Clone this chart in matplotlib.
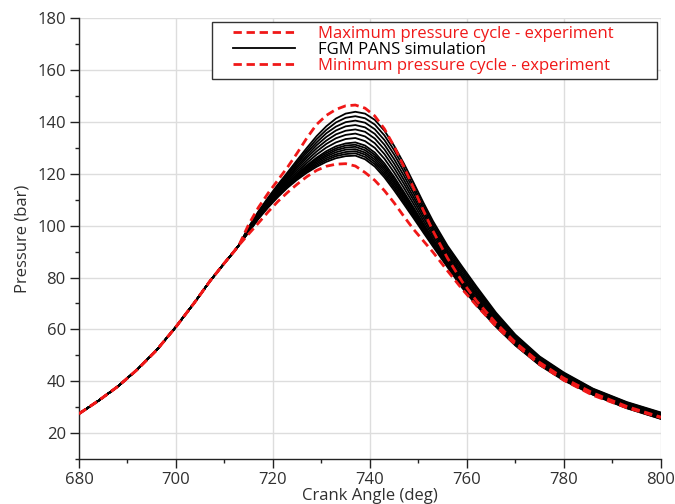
import numpy as np
import matplotlib
matplotlib.use("Agg")
import matplotlib.pyplot as plt
from matplotlib.patches import Rectangle
from matplotlib.lines import Line2D

plt.rcParams['font.family'] = ['Open Sans', 'DejaVu Sans']

# compression stroke, common to every cycle
ang_comp = [680, 684, 688, 692, 696, 700, 704, 707, 710, 712]
p_comp = [27.5, 32.5, 38.0, 44.5, 52.0, 61.0, 70.8, 78.6, 85.6, 90.1]

# combustion / expansion part, crank angle in deg
ang = [713, 715, 717, 719, 721, 723, 725, 727, 729, 731, 733, 735, 737, 739, 741,
       743, 745, 747, 749, 751, 753, 756, 759, 762, 766, 770, 775, 780, 786, 793, 800]

# experiment, max and min pressure cycles (bar)
p_max_exp = [92.5, 100.5, 107.0, 112.5, 117.5, 122.5, 128.0, 133.8, 139.0, 142.5, 144.8,
             146.2, 146.5, 145.3, 142.3, 137.3, 130.5, 122.8, 114.5, 106.0, 98.0, 87.5,
             78.5, 71.0, 62.5, 55.0, 47.3, 41.2, 35.5, 30.3, 26.2]
p_min_exp = [92.5, 96.8, 101.0, 105.3, 109.3, 112.8, 116.0, 118.9, 121.3, 122.9, 123.7,
             123.9, 123.0, 120.5, 117.5, 113.5, 108.8, 103.6, 98.6, 94.2, 89.8, 82.6,
             75.6, 69.2, 61.2, 54.2, 46.5, 40.4, 34.6, 29.8, 26.0]

# FGM PANS simulated cycles (bar)
p_sim = [
    [92.5, 99.5, 105.5, 110.8, 115.8, 120.5, 125.3, 130.0, 134.5, 138.3, 141.3, 143.2,
     143.9, 143.2, 140.8, 136.6, 130.8, 124.0, 116.6, 109.0, 101.8, 92.3, 84.3, 76.5,
     66.5, 58.0, 49.6, 43.4, 37.2, 32.0, 28.0],
    [92.5, 99.3, 105.2, 110.4, 115.3, 119.9, 124.5, 129.0, 133.3, 136.9, 139.8, 141.6,
     142.2, 141.4, 139.0, 134.8, 129.1, 122.4, 115.2, 107.8, 100.8, 91.5, 83.5, 75.8,
     66.0, 57.6, 49.3, 43.1, 37.0, 31.8, 27.8],
    [92.5, 99.1, 104.9, 110.0, 114.8, 119.3, 123.8, 128.1, 132.1, 135.6, 138.2, 139.9,
     140.5, 139.7, 137.2, 133.0, 127.4, 120.9, 113.9, 106.7, 99.8, 90.6, 82.7, 75.0,
     65.4, 57.2, 48.9, 42.8, 36.7, 31.5, 27.5],
    [92.5, 98.9, 104.6, 109.7, 114.4, 118.7, 123.0, 127.1, 131.0, 134.2, 136.7, 138.3,
     138.8, 137.9, 135.4, 131.2, 125.6, 119.3, 112.5, 105.5, 98.9, 89.8, 81.8, 74.3,
     64.9, 56.7, 48.6, 42.5, 36.5, 31.3, 27.3],
    [92.5, 98.7, 104.3, 109.3, 113.9, 118.1, 122.3, 126.2, 129.8, 132.8, 135.2, 136.6,
     137.1, 136.2, 133.6, 129.4, 123.9, 117.7, 111.1, 104.4, 97.9, 89.0, 81.0, 73.6,
     64.3, 56.3, 48.2, 42.2, 36.2, 31.0, 27.0],
    [92.5, 98.5, 104.1, 108.9, 113.4, 117.6, 121.5, 125.2, 128.6, 131.5, 133.7, 135.0,
     135.5, 134.4, 131.8, 127.6, 122.2, 116.2, 109.8, 103.2, 96.9, 88.2, 80.2, 72.9,
     63.8, 55.9, 47.9, 41.9, 36.0, 30.8, 26.8],
    [92.5, 98.3, 103.8, 108.5, 112.9, 117.0, 120.7, 124.2, 127.4, 130.1, 132.1, 133.4,
     133.8, 132.6, 130.0, 125.8, 120.5, 114.6, 108.4, 102.0, 95.9, 87.3, 79.4, 72.1,
     63.2, 55.5, 47.6, 41.5, 35.8, 30.6, 26.5],
    [92.5, 98.1, 103.5, 108.1, 112.4, 116.4, 120.0, 123.3, 126.2, 128.7, 130.6, 131.7,
     132.1, 130.9, 128.2, 124.0, 118.8, 113.0, 107.0, 100.9, 94.9, 86.5, 78.6, 71.4,
     62.7, 55.1, 47.2, 41.2, 35.5, 30.3, 26.3],
    [92.5, 98.0, 103.3, 108.0, 112.2, 116.1, 119.6, 122.8, 125.7, 128.0, 129.8, 130.9,
     131.2, 130.0, 127.3, 123.1, 117.9, 112.2, 106.3, 100.3, 94.5, 86.1, 78.2, 71.0,
     62.4, 54.9, 47.1, 41.1, 35.4, 30.2, 26.1],
    [92.5, 97.9, 103.2, 107.8, 112.0, 115.8, 119.2, 122.3, 125.1, 127.3, 129.1, 130.1,
     130.4, 129.1, 126.4, 122.2, 117.0, 111.4, 105.6, 99.7, 94.0, 85.7, 77.7, 70.7,
     62.1, 54.6, 46.9, 40.9, 35.3, 30.1, 26.0],
    [92.5, 97.8, 103.0, 107.6, 111.7, 115.5, 118.8, 121.8, 124.5, 126.7, 128.3, 129.3,
     129.5, 128.2, 125.5, 121.3, 116.2, 110.7, 105.0, 99.1, 93.5, 85.3, 77.3, 70.3,
     61.8, 54.4, 46.7, 40.8, 35.2, 30.0, 25.9],
    [92.5, 97.7, 102.9, 107.4, 111.5, 115.2, 118.5, 121.4, 123.9, 126.0, 127.5, 128.4,
     128.7, 127.4, 124.6, 120.4, 115.3, 109.9, 104.3, 98.6, 93.0, 84.8, 76.9, 69.9,
     61.6, 54.2, 46.5, 40.6, 35.0, 29.8, 25.8],
    [92.5, 97.6, 102.8, 107.2, 111.2, 114.9, 118.1, 120.9, 123.3, 125.3, 126.8, 127.6,
     127.9, 126.5, 123.7, 119.5, 114.5, 109.1, 103.6, 98.0, 92.5, 84.4, 76.5, 69.6,
     61.3, 54.0, 46.4, 40.5, 34.9, 29.7, 25.6],
    [92.5, 97.5, 102.6, 107.0, 111.0, 114.6, 117.7, 120.4, 122.7, 124.6, 126.0, 126.8,
     127.0, 125.6, 122.8, 118.6, 113.6, 108.3, 102.9, 97.4, 92.0, 84.0, 76.1, 69.2,
     61.0, 53.8, 46.2, 40.3, 34.8, 29.6, 25.5],
]

legend_labels = ['Maximum pressure cycle - experiment',
                 'FGM PANS simulation',
                 'Minimum pressure cycle - experiment']

fig = plt.figure(figsize=(6.75, 5.04), dpi=100)
ax = fig.add_axes([0.117, 0.089, 0.862, 0.875])

red = '#f01818'
txt = '#303030'
dash = (3, 1.7)

for p in p_sim:
    ax.plot(ang_comp + ang, p_comp + p, color='black', lw=1.3, zorder=3)

ax.plot(ang_comp + ang, p_comp + p_max_exp, color=red, lw=2.0, dashes=dash, zorder=4)
ax.plot(ang_comp + ang, p_comp + p_min_exp, color=red, lw=2.0, dashes=dash, zorder=4)

ax.set_xlim(680, 800)
ax.set_ylim(10, 180)
ax.set_xticks(np.arange(680, 801, 20))
ax.set_xticks(np.arange(690, 800, 20), minor=True)
ax.set_yticks(np.arange(20, 181, 20))
ax.set_yticks(np.arange(10, 180, 20), minor=True)
ax.grid(True, which='major', color='#dddddd', lw=1.0)
ax.set_axisbelow(True)

for s in ['top', 'right']:
    ax.spines[s].set_visible(False)
for s in ['left', 'bottom']:
    ax.spines[s].set_color('#222222')
    ax.spines[s].set_linewidth(1.0)

ax.tick_params(which='major', length=6.5, width=1, color='#222222',
               labelsize=12, labelcolor=txt, pad=3)
ax.tick_params(which='minor', length=3, width=1, color='#222222')

ax.set_xlabel('Crank Angle (deg)', fontsize=12, color=txt, labelpad=0)
ax.set_ylabel('Pressure (bar)', fontsize=12, color=txt, labelpad=5)

# legend box, wider than its entries
ax.add_patch(Rectangle((0.2285, 0.862), 0.7645, 0.129, transform=ax.transAxes,
                       facecolor='white', edgecolor='#333333', lw=1.0,
                       zorder=5, clip_on=False))
handles = [Line2D([], [], color=red, lw=2.0, dashes=dash),
           Line2D([], [], color='black', lw=1.3),
           Line2D([], [], color=red, lw=2.0, dashes=dash)]
leg = ax.legend(handles, legend_labels, loc='upper left',
                bbox_to_anchor=(0.2646, 0.982), frameon=False,
                fontsize=12, handlelength=3.7, handletextpad=1.4,
                labelspacing=0.0, borderpad=0.0, borderaxespad=0.0)
leg.set_zorder(6)
for t, c in zip(leg.get_texts(), [red, 'black', red]):
    t.set_color(c)

fig.savefig('out.png', dpi=100)
